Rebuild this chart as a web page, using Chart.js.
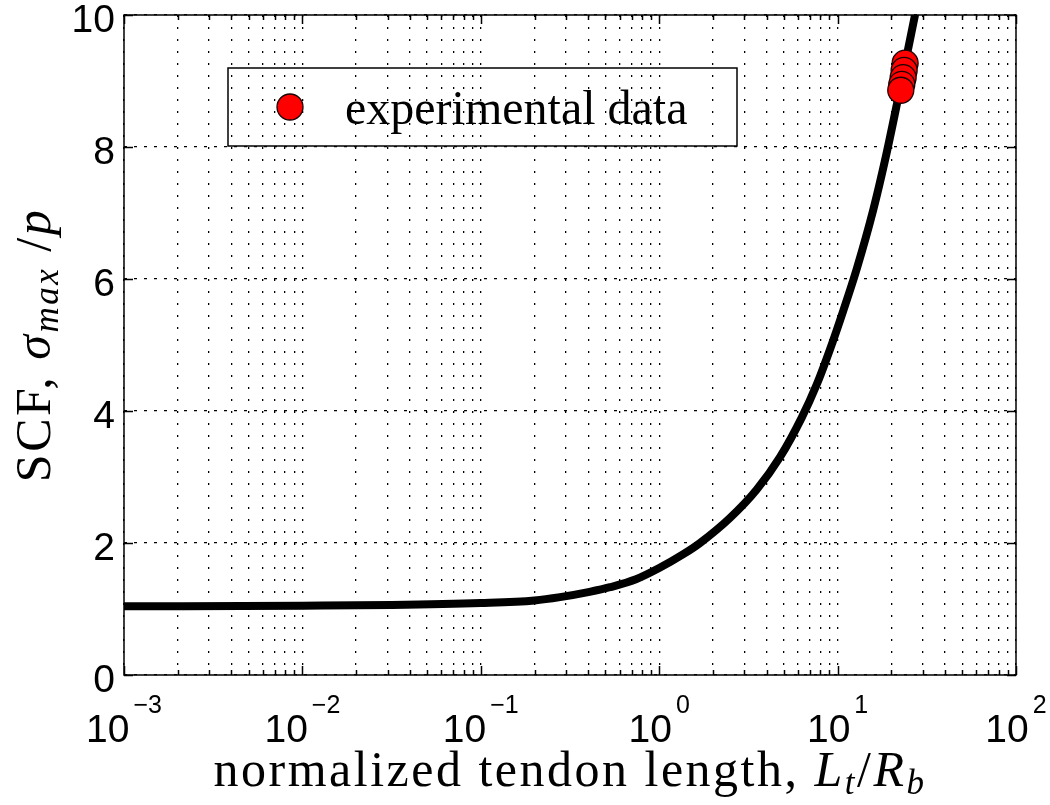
<!DOCTYPE html>
<html><head><meta charset="utf-8">
<script src="https://cdn.jsdelivr.net/npm/chart.js@4.4.0/dist/chart.umd.min.js"></script>
<style>html,body{margin:0;padding:0;background:#fff}canvas{display:block}</style>
</head><body>
<canvas id="c" width="1050" height="805"></canvas>
<script>
// ---- data ----
const curveL   = [0.001, 0.01, 0.0316, 0.1, 0.2, 0.278, 0.407, 0.53, 0.741, 1.0, 1.365, 1.694, 2.495, 3.524, 4.753, 6.295, 7.638, 9.057, 10.76, 12.79, 15.85, 18.62, 21.88, 27.16, 29.5];
const curveSCF = [1.04, 1.05, 1.06, 1.09, 1.13, 1.18, 1.26, 1.33, 1.45, 1.62, 1.83, 2.0, 2.38, 2.81, 3.3, 3.9, 4.4, 4.93, 5.52, 6.15, 7.05, 7.85, 8.75, 10.0, 10.5];
const expL     = [23.9, 23.6, 23.3, 22.9, 22.6];
const expSCF   = [9.27, 9.16, 9.05, 8.95, 8.86];
const xDecades = [0.001, 0.01, 0.1, 1, 10, 100];
const xExponents = ['\u22123', '\u22122', '\u22121', '0', '1', '2'];
const xMultipliers = [1, 2, 3, 4, 5, 6, 7, 8, 9];
const yTicks = [0, 2, 4, 6, 8, 10];
const legendLabel = 'experimental data';

const xGridValues = [];
xDecades.forEach((d, i) => {
  if (i === xDecades.length - 1) { xGridValues.push(d); return; }
  xMultipliers.forEach(m => xGridValues.push(+(d * m).toPrecision(3)));
});

const SANS = '"Liberation Sans", Arial, Helvetica, sans-serif';
const SERIF = '"Liberation Serif", "Times New Roman", serif';

const decorPlugin = {
  id: 'decor',
  afterDatasetsDraw(chart) {
    const ctx = chart.ctx, a = chart.chartArea;
    const xs = chart.scales.x, ys = chart.scales.y;
    ctx.save();
    ctx.strokeStyle = '#000';
    ctx.lineWidth = 1.5;
    ctx.setLineDash([]);
    xGridValues.forEach(v => {
      const px = Math.round(xs.getPixelForValue(v)) + 0.5;
      const len = xDecades.includes(v) ? 9 : 5;
      ctx.beginPath();
      ctx.moveTo(px, a.bottom); ctx.lineTo(px, a.bottom - len);
      ctx.moveTo(px, a.top); ctx.lineTo(px, a.top + len);
      ctx.stroke();
    });
    yTicks.forEach(v => {
      const py = Math.round(ys.getPixelForValue(v)) + 0.5;
      ctx.beginPath();
      ctx.moveTo(a.left, py); ctx.lineTo(a.left + 9, py);
      ctx.moveTo(a.right, py); ctx.lineTo(a.right - 9, py);
      ctx.stroke();
    });
    ctx.strokeRect(a.left, a.top, a.right - a.left, a.bottom - a.top);
    ctx.restore();
  },
  afterDraw(chart) {
    const ctx = chart.ctx, a = chart.chartArea;
    const xs = chart.scales.x, ys = chart.scales.y;
    ctx.save();
    ctx.fillStyle = '#000';
    ctx.textBaseline = 'alphabetic';
    xDecades.forEach((v, i) => {
      const px = xs.getPixelForValue(v);
      ctx.font = '39px ' + SANS;
      const w1 = ctx.measureText('10').width;
      ctx.font = '25px ' + SANS;
      const w2 = ctx.measureText(xExponents[i]).width;
      const start = px - (w1 + 4 + w2) / 2;
      ctx.font = '39px ' + SANS;
      ctx.textAlign = 'left';
      ctx.fillText('10', start, a.bottom + 67);
      ctx.font = '25px ' + SANS;
      ctx.fillText(xExponents[i], start + w1 + 4, a.bottom + 38);
    });
    ctx.font = '39px ' + SANS;
    ctx.textAlign = 'right';
    yTicks.forEach(v => {
      const py = ys.getPixelForValue(v);
      ctx.fillText(String(v), a.left - 9, py + 17);
    });
    const cx = (a.left + a.right) / 2;
    const xParts = [
      {t: 'normalized tendon length, ', f: '50px ' + SERIF, dy: 0},
      {t: 'L', f: 'italic 50px ' + SERIF, dy: 0},
      {t: 't', f: 'italic 35px ' + SERIF, dy: 8},
      {t: '/', f: '50px ' + SERIF, dy: 0},
      {t: 'R', f: 'italic 50px ' + SERIF, dy: 0},
      {t: 'b', f: 'italic 35px ' + SERIF, dy: 8}
    ];
    drawParts(ctx, xParts, cx, a.bottom + 111, 2.5);
    ctx.save();
    ctx.translate(50, (a.top + a.bottom) / 2);
    ctx.rotate(-Math.PI / 2);
    const yParts = [
      {t: 'SCF, ', f: '50px ' + SERIF, dy: 0},
      {t: '\u03C3', f: 'italic 50px ' + SERIF, dy: 0},
      {t: 'max', f: 'italic 35px ' + SERIF, dy: 8},
      {t: ' /', f: '50px ' + SERIF, dy: 0},
      {t: 'p', f: 'italic 50px ' + SERIF, dy: 0}
    ];
    drawParts(ctx, yParts, 0, 0, 2.5);
    ctx.restore();
    const lb = {x: 228, y: 68, w: 509, h: 78};
    ctx.strokeStyle = '#000';
    ctx.lineWidth = 1.5;
    ctx.strokeRect(lb.x, lb.y, lb.w, lb.h);
    const ds = chart.data.datasets[0];
    ctx.beginPath();
    ctx.arc(lb.x + 62, lb.y + lb.h / 2, ds.pointRadius, 0, Math.PI * 2);
    ctx.fillStyle = ds.backgroundColor;
    ctx.fill();
    ctx.lineWidth = ds.pointBorderWidth;
    ctx.strokeStyle = ds.borderColor;
    ctx.stroke();
    ctx.fillStyle = '#000';
    ctx.font = '48px ' + SERIF;
    ctx.textAlign = 'left';
    ctx.fillText(legendLabel, lb.x + 117, lb.y + 56);
    ctx.restore();
  }
};

function drawParts(ctx, parts, cx, baseY, spacing) {
  const ls = spacing + 'px';
  if ('letterSpacing' in ctx) ctx.letterSpacing = ls;
  let total = 0;
  parts.forEach(p => { ctx.font = p.f; p.w = ctx.measureText(p.t).width; total += p.w; });
  let x = cx - total / 2;
  ctx.textAlign = 'left';
  ctx.fillStyle = '#000';
  parts.forEach(p => { ctx.font = p.f; ctx.fillText(p.t, x, baseY + p.dy); x += p.w; });
  if ('letterSpacing' in ctx) ctx.letterSpacing = '0px';
}

new Chart(document.getElementById('c'), {
  type: 'scatter',
  data: {
    datasets: [
      {
        label: legendLabel,
        data: expL.map((v, i) => ({x: v, y: expSCF[i]})),
        showLine: false,
        pointRadius: 13,
        pointHoverRadius: 13,
        backgroundColor: '#ff0000',
        borderColor: '#1a0000',
        pointBorderWidth: 1.3,
        clip: false
      },
      {
        label: 'model',
        data: curveL.map((v, i) => ({x: v, y: curveSCF[i]})),
        showLine: true,
        pointRadius: 0,
        borderColor: '#000',
        borderWidth: 8,
        cubicInterpolationMode: 'monotone',
        clip: {left: 4, top: 0, right: 0, bottom: 4}
      }
    ]
  },
  options: {
    responsive: false,
    animation: false,
    devicePixelRatio: 1,
    layout: {padding: {left: 124, top: 15, right: 34, bottom: 130}},
    plugins: {legend: {display: false}, tooltip: {enabled: false}},
    scales: {
      x: {
        type: 'logarithmic',
        min: 0.001, max: 100,
        afterBuildTicks: s => { s.ticks = xGridValues.map(v => ({value: v})); },
        ticks: {display: false},
        grid: {color: '#000', lineWidth: 1.3, drawTicks: false},
        border: {display: false, dash: [2, 10]},
        title: {display: false}
      },
      y: {
        type: 'linear',
        min: 0, max: 10,
        afterBuildTicks: s => { s.ticks = yTicks.map(v => ({value: v})); },
        ticks: {display: false},
        grid: {color: '#000', lineWidth: 1.3, drawTicks: false},
        border: {display: false, dash: [3, 7]},
        title: {display: false}
      }
    }
  },
  plugins: [decorPlugin]
});
</script>
</body></html>
